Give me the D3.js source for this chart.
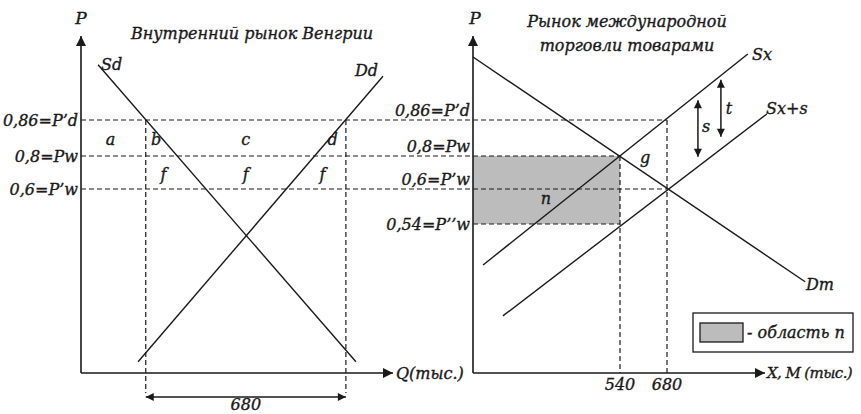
<!DOCTYPE html>
<html><head><meta charset="utf-8">
<script src="https://cdn.jsdelivr.net/npm/d3@7"></script>
<style>
body{margin:0;background:#fff;}
svg text{font-family:"DejaVu Serif",serif;font-style:italic;fill:#1a1a1a;stroke:#1a1a1a;stroke-width:0.35px;}
</style></head>
<body><svg id="c" width="861" height="414"></svg>
<script>
// ---- data ----
const priceLevels = [0.54, 0.6, 0.8, 0.86];
const priceLabels = ["0,54=P\u2019\u2019w", "0,6=P\u2019w", "0,8=Pw", "0,86=P\u2019d"];
const leftPriceLevels = [0.6, 0.8, 0.86];
const leftPriceLabels = ["0,6=P\u2019w", "0,8=Pw", "0,86=P\u2019d"];
const pAxisRange = [0.3, 1.0];
// domestic market (left): quantities
const leftQ = [220, 900];          // Q at P'd for Sd / Dd, span = 680
const spanLabel = "680";
const leftQMax = 1060;
const sdLine = [[58, 0.952], [934, 0.318]];
const ddLine = [[1026, 0.933], [194, 0.318]];
const areaLetters = [["a", 100, 0.83], ["b", 255, 0.83], ["c", 560, 0.83], ["d", 855, 0.83]];
const fLetters = [["f", 280, 0.7], ["f", 560, 0.7], ["f", 820, 0.7]];
// international market (right)
const rightTicks = [540, 680];
const rightQMax = 1000;
const dmLine = [[0, 0.965], [1131, 0.447]];
const sxLine = [[37, 0.474], [944, 0.97]];
const sxsLine = [[110, 0.392], [1006, 0.87]];
const sArrow = [781, 0.893, 0.795];
const tArrow = [856, 0.927, 0.832];
const titleLeft = "Внутренний рынок Венгрии";
const titleRight = ["Рынок международной", "торговли товарами"];
const legendText = "- область n";

// ---- scales ----
const svg = d3.select("#c");
const y = d3.scaleLinear()
  .domain([pAxisRange[0], ...priceLevels, pAxisRange[1]])
  .range([373, 224, 189, 156, 120, 36]);
const xL = d3.scaleLinear().domain([0, leftQMax]).range([81, 393]);
const xR = d3.scaleLinear().domain([0, 540, 680, rightQMax]).range([473, 620, 667, 765]);

const ink = "#1a1a1a";
const defs = svg.append("defs");
defs.append("marker").attr("id","ah").attr("viewBox","0 0 10 10").attr("refX",10).attr("refY",5)
  .attr("markerWidth",9).attr("markerHeight",8).attr("markerUnits","userSpaceOnUse").attr("orient","auto-start-reverse")
  .append("path").attr("d","M0,0L10,5L0,10Z").attr("fill",ink);
defs.append("marker").attr("id","ax").attr("viewBox","0 0 10 10").attr("refX",10).attr("refY",5)
  .attr("markerWidth",11).attr("markerHeight",10).attr("markerUnits","userSpaceOnUse").attr("orient","auto")
  .append("path").attr("d","M0,0L10,5L0,10Z").attr("fill",ink);

const line = d3.line();
function seg(pts, dash, w){
  const p = svg.append("path").attr("d", line(pts)).attr("fill","none").attr("stroke",ink)
    .attr("stroke-width", w||1.4);
  if (dash) p.attr("stroke-dasharray","5,3");
  return p;
}
function txt(s, x, yy, size, anchor){
  return svg.append("text").attr("x",x).attr("y",yy).attr("font-size",size||16)
    .attr("text-anchor",anchor||"start").attr("dominant-baseline","central").text(s);
}

// gray area n
svg.append("rect").attr("x",xR(0)).attr("y",y(0.8)).attr("width",xR(540)-xR(0))
  .attr("height",y(0.54)-y(0.8)).attr("fill","#bcbcbc");

// dashed horizontals
seg([[xL(0), y(0.86)], [xR(680), y(0.86)]], true, 1.2);
seg([[xL(0), y(0.8)], [xR(540), y(0.8)]], true, 1.2);
seg([[xL(0), y(0.6)], [xR(680), y(0.6)]], true, 1.2);
seg([[xR(0), y(0.54)], [xR(540), y(0.54)]], true, 1.2);
// dashed verticals left
leftQ.forEach(q => seg([[xL(q), y(0.86)], [xL(q), 393]], true, 1.2));
// dashed verticals right
seg([[xR(540), y(0.8)], [xR(540), y(pAxisRange[0])]], true, 1.2);
seg([[xR(680), y(0.86)], [xR(680), y(pAxisRange[0])]], true, 1.2);

// axes
[[xL, leftQMax], [xR, rightQMax]].forEach(([xs, qm]) => {
  seg([[xs(0), y(pAxisRange[0])], [xs(0), y(pAxisRange[1])]], false, 1.6).attr("marker-end","url(#ax)");
  seg([[xs(0), y(pAxisRange[0])], [xs(qm), y(pAxisRange[0])]], false, 1.6).attr("marker-end","url(#ax)");
});

// curves
[sdLine, ddLine].forEach(l => seg(l.map(d => [xL(d[0]), y(d[1])]), false, 1.4));
[dmLine, sxLine, sxsLine].forEach(l => seg(l.map(d => [xR(d[0]), y(d[1])]), false, 1.4));

// arrows
seg([[xL(leftQ[0]), 397], [xL(leftQ[1]), 397]], false, 1.5).attr("marker-start","url(#ah)").attr("marker-end","url(#ah)");
[sArrow, tArrow].forEach(a => seg([[xR(a[0]), y(a[1])], [xR(a[0]), y(a[2])]], false, 1.5)
  .attr("marker-start","url(#ah)").attr("marker-end","url(#ah)"));

// legend
svg.append("rect").attr("x",693).attr("y",313).attr("width",160).attr("height",39)
  .attr("fill","#fff").attr("stroke",ink).attr("stroke-width",1.3);
svg.append("rect").attr("x",700).attr("y",323).attr("width",43).attr("height",19)
  .attr("fill","#bcbcbc").attr("stroke",ink).attr("stroke-width",1.3);
txt(legendText, 747, 332, 16);

// texts
txt("P", xL(0), 18, 17, "middle");
txt("P", xR(0)+2, 18, 17, "middle");
txt(titleLeft, 252, 33, 16, "middle");
txt(titleRight[0], 627, 21, 16, "middle");
txt(titleRight[1], 627, 45, 16, "middle");
txt("Sd", 101, 64, 16);
txt("Dd", 355, 70, 16);
txt("Sx", 752, 54, 16);
txt("Sx+s", 766, 108, 16);
txt("Dm", 806, 284, 16);
txt("g", 645, 157, 16, "middle");
txt("n", 546, 198, 16, "middle");
txt("s", 706, 126, 16, "middle");
txt("t", 729, 108, 16, "middle");
leftPriceLevels.forEach((p, i) => txt(leftPriceLabels[i], xL(0)-3, y(p), 16, "end"));
priceLevels.forEach((p, i) => txt(priceLabels[i], xR(0)-3, p === 0.54 ? y(p) : y(p)-10, 16, "end"));
areaLetters.forEach(d => txt(d[0], xL(d[1]), y(d[2])+1, 16, "middle"));
fLetters.forEach(d => txt(d[0], xL(d[1]), y(d[2])+2, 16, "middle"));
rightTicks.forEach(t => txt(String(t), xR(t), 384, 16, "middle"));
txt(spanLabel, (xL(leftQ[0])+xL(leftQ[1]))/2, 404, 16, "middle");
txt("Q(тыс.)", 396, 373, 16);
txt("X, M (тыс.)", 767, 373, 15).attr("letter-spacing", "-0.6");
</script></body></html>
